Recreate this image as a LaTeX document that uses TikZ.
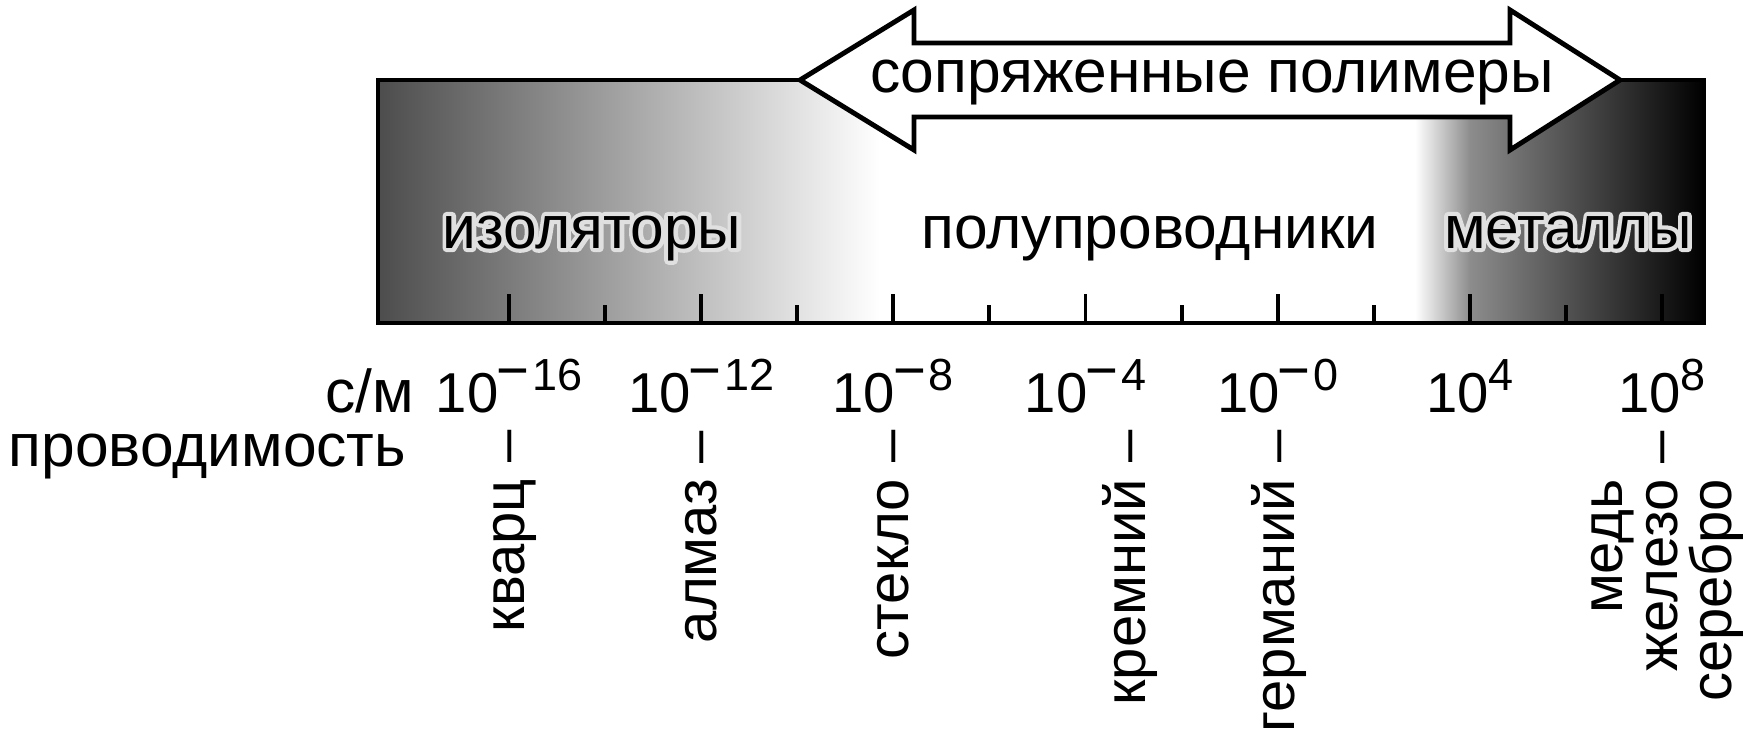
\documentclass[tikz,border=0pt]{standalone}
\usepackage{fontspec}
\setmainfont{Liberation Sans}
\usetikzlibrary{positioning}

\tikzstyle{category} = [font=\fontsize{17.2}{20}\selectfont, inner sep=0pt, anchor=base]
\tikzstyle{decade} = [font=\fontsize{16}{19}\selectfont, inner sep=0pt, anchor=base]
\tikzstyle{material} = [font=\fontsize{16.5}{19}\selectfont, inner sep=0pt, rotate=90, anchor=base east]
\tikzstyle{majortick} = [line width=1.1pt]
\tikzstyle{frame} = [line width=1.4pt]

% light outline round the text on the grey part of the bar
\newcommand{\halo}[1]{%
  \rlap{\special{pdf:literal direct 2 Tr 0.88 g 0.88 G 2.4 w 1 j}#1\special{pdf:literal direct 0 Tr 0 g 0 G}}#1}
\newcommand{\powten}[1]{10\raisebox{0.38em}{\fontsize{12.8}{14}\selectfont #1}}
\newcommand{\expminus}{\kern-0.04em\scalebox{1.25}[1.3]{−}\kern0.06em}

\begin{document}
\begin{tikzpicture}[x=0.1mm, y=0.1mm]
        \useasboundingbox (0,0) rectangle (1743,743);

        % Shading of the bar
        \shade[left color=black!70, right color=white] (378,420) rectangle (880,663);
        \fill[white] (880,420) rectangle (1415,663);
        \shade[left color=white, right color=black!45] (1415,420) rectangle (1470,663);
        \shade[left color=black!45, right color=black] (1470,420) rectangle (1704,663);
        \draw[frame] (378,420) rectangle (1704,663);

        % Ticks, one every 2 decades
        \foreach \d in {-16,-12,...,8}
            \draw[majortick] ({509+(\d+16)*48.04},420) -- ++(0,29);
        \foreach \d in {-14,-10,...,6}
            \draw[majortick] ({509+(\d+16)*48.04},420) -- ++(0,18);

        % Double arrow over the bar
        \draw[frame, fill=white, line join=miter] (800,663) -- (914,733) -- (914,700) -- (1510,700)
            -- (1510,733) -- (1620,663) -- (1510,593) -- (1510,626) -- (914,626) -- (914,593) -- cycle;
        \node (polymers) [category] at (1212,651) {сопряженные полимеры};

        % Regions of the bar
        \node (insulators) [category] at (592,495) {\halo{изоляторы}};
        \node (semiconductors) [category] at (1150,495) {полупроводники};
        \node (metals) [category] at (1568,495) {\halo{металлы}};

        % Scale below the bar
        \foreach \d/\e in {-16/\expminus16, -12/\expminus12, -8/\expminus8, -4/\expminus4, 0/\expminus0, 4/4, 8/8}
            \node (dec\d) [decade] at ({509+(\d+16)*48.04},331) {\powten{\e}};
        \node (unit) [category, anchor=base east] at (415,331) {с/м};
        \node (conductivity) [category, anchor=base west] at (8,277) {проводимость};

        % Materials
        \node (quartz) [material] at (524,313) {кварц –};
        \node (diamond) [material] at (716,313) {алмаз –};
        \node (glass) [material] at (908,313) {стекло –};
        \node (silicon) [material] at (1145,313) {кремний –};
        \node (germanium) [material] at (1294,313) {германий –};
        \node (copper) [material] at (1622,313) {медь\phantom{ –}};
        \node (iron) [material] at (1677,313) {железо –};
        \node (silver) [material] at (1731,313) {серебро\phantom{ –}};

    \end{tikzpicture}
\end{document}
